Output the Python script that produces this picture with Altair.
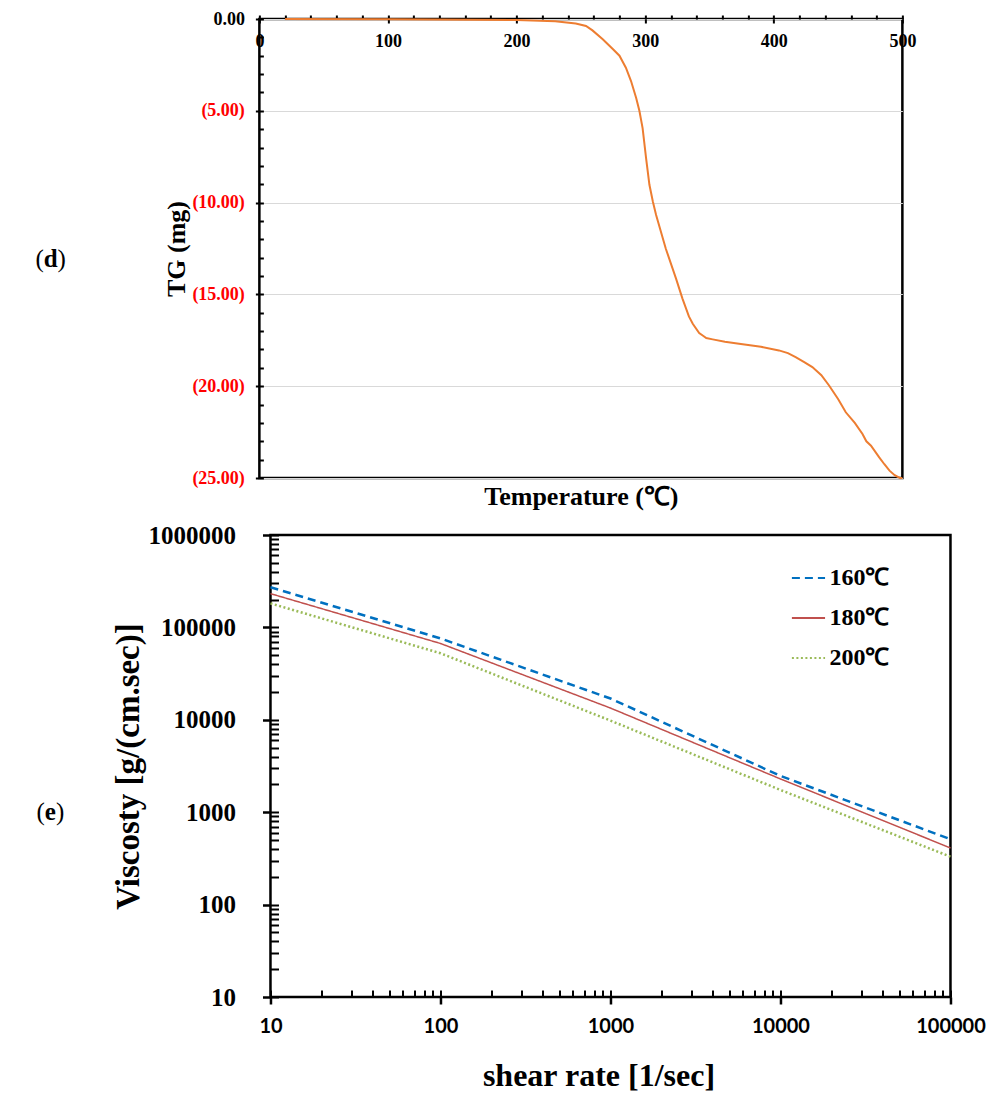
import altair as alt
import pandas as pd

SERIF = "Liberation Serif"

# ---------------- (d) TG curve ----------------
tg_temperature = [20, 100, 200, 230, 246, 254, 259, 267, 275, 280, 285, 289, 293, 295.5, 298, 300.7, 303.3,
                  306, 308.5, 316, 324, 329, 334, 337, 342, 345, 347.5, 352.5, 362, 373, 390,
                  404, 411, 417, 424, 430, 437, 443, 450, 456, 463, 469, 472, 475.6, 482, 486,
                  490, 494, 498, 500]
tg_mass = [0.0, -0.02, -0.06, -0.12, -0.25, -0.38, -0.62, -1.1, -1.65, -2.0, -2.65, -3.38, -4.3, -5.0, -5.94,
           -7.58, -9.03, -9.95, -10.67, -12.5, -14.14, -15.23, -16.2, -16.6, -17.1, -17.25, -17.38, -17.45,
           -17.58, -17.69, -17.85, -18.05, -18.2, -18.42, -18.7, -18.96, -19.4, -19.96, -20.7, -21.42, -22.0,
           -22.6, -23.0, -23.24, -23.88, -24.25, -24.6, -24.85, -25.0, -25.0]

tg_x_major = [0, 100, 200, 300, 400, 500]
tg_x_minor = list(range(0, 501, 20))
tg_y_major = [-25, -20, -15, -10, -5, 0]
tg_y_minor = list(range(-25, 1))

# ---------------- (e) viscosity ----------------
shear_rate = [10, 100, 1000, 10000, 100000]
visc_160 = [272000, 76000, 17000, 2470, 510]
visc_180 = [232000, 67000, 13400, 2290, 410]
visc_200 = [182000, 52500, 9800, 1740, 330]
series_names = ["160℃", "180℃", "200℃"]
series_colors = ["#0070C0", "#C0504D", "#9BBB59"]
series_dash = [[8, 5], [1, 0], [2, 2.5]]
series_width = [2.5, 1.5, 2.5]

v_x_major = [10, 100, 1000, 10000, 100000]
v_y_major = [10, 100, 1000, 10000, 100000, 1000000]
v_x_minor = [m * 10 ** e for e in range(1, 5) for m in range(1, 10)] + [100000]
v_y_minor = [m * 10 ** e for e in range(1, 6) for m in range(1, 10)] + [1000000]

tg_df = pd.DataFrame({"T": tg_temperature, "TG": tg_mass})
rows = []
for name, vals in zip(series_names, (visc_160, visc_180, visc_200)):
    for s, v in zip(shear_rate, vals):
        rows.append({"shear": s, "visc": v, "series": name})
visc_df = pd.DataFrame(rows)

W1, H1 = 643, 459
W2, H2 = 680, 462
LBL_FS = 25


def panel_label(letter, x0, y0, letter_w):
    base = alt.Chart(pd.DataFrame({"t": [0]}))
    common = dict(font=SERIF, fontSize=LBL_FS, baseline="middle", align="left", color="black")
    pw = 0.333 * LBL_FS
    lp = base.mark_text(text="(", fontWeight="normal", **common).encode(x=alt.value(x0), y=alt.value(y0))
    lt = base.mark_text(text=letter, fontWeight="bold", **common).encode(x=alt.value(x0 + pw), y=alt.value(y0))
    rp = base.mark_text(text=")", fontWeight="normal", **common).encode(
        x=alt.value(x0 + pw + letter_w), y=alt.value(y0))
    return [lp, lt, rp]


# ---------- top chart ----------
xs1 = alt.Scale(domain=[0, 500], nice=False, zero=False)
ys1 = alt.Scale(domain=[-25, 0], nice=False, zero=False)

x1_axis = alt.Axis(orient="top", values=tg_x_minor,
                   labelExpr="datum.value % 100 == 0 ? format(datum.value, 'd') : ''",
                   tickSize=4, tickWidth=2, tickColor="black", domain=False, grid=False,
                   labelFont=SERIF, labelFontSize=18, labelFontWeight="bold", labelColor="black",
                   labelBaseline="alphabetic", labelPadding=-31, labelOverlap=False, labelFlush=False,
                   minExtent=0, maxExtent=4, title=None)
y1_axis = alt.Axis(orient="left", values=tg_y_major,
                   labelExpr="datum.value < 0 ? '(' + format(-datum.value, '.2f') + ')' : format(datum.value, '.2f')",
                   labelColor={"condition": {"test": "datum.value < 0", "value": "#FF0000"}, "value": "black"},
                   tickSize=4, tickWidth=2, tickColor="black", domain=False,
                   grid=True, gridColor="#D9D9D9", gridWidth=1,
                   labelFont=SERIF, labelFontSize=18, labelFontWeight="bold", labelPadding=11,
                   title="TG (mg)", titleFont=SERIF, titleFontSize=26, titleFontWeight="bold",
                   titleColor="black", titlePadding=2)

tg_line = alt.Chart(tg_df).mark_line(color="#ED7D31", strokeWidth=2).encode(
    x=alt.X("T:Q", scale=xs1, axis=x1_axis),
    y=alt.Y("TG:Q", scale=ys1, axis=y1_axis),
)
tg_inner = alt.Chart(tg_df).mark_line(opacity=0).encode(
    x=alt.X("T:Q", scale=xs1, axis=alt.Axis(orient="bottom", offset=-H1, values=tg_x_major, tickSize=4,
                                             tickWidth=2, tickColor="black", labels=False, domain=False,
                                             grid=False, title=None, minExtent=0)),
    y=alt.Y("TG:Q", scale=ys1, axis=alt.Axis(orient="right", offset=-W1, values=tg_y_minor, tickSize=4,
                                              tickWidth=2, tickColor="black", labels=False, domain=False,
                                              grid=False, title=None, minExtent=0)),
)
tg_title = alt.Chart(tg_df).mark_line(opacity=0).encode(
    x=alt.X("T:Q", scale=xs1, axis=alt.Axis(orient="bottom", ticks=False, labels=False, domain=False,
                                             grid=False, title="Temperature (℃)", titleFont=SERIF,
                                             titleFontSize=26, titleFontWeight="bold", titleColor="black",
                                             titlePadding=5)),
    y=alt.Y("TG:Q", scale=ys1, axis=None),
)
# invisible anchor that widens the top panel so the centred layout offsets the lower panel
top_anchor = alt.Chart(pd.DataFrame({"t": [0]})).mark_text(
    text=".", align="right", baseline="middle", opacity=0, fontSize=10
).encode(x=alt.value(737), y=alt.value(240))

top = alt.layer(tg_line, tg_inner, tg_title, top_anchor,
                *panel_label("d", -224, 240, 0.556 * LBL_FS)).resolve_axis(
    x="independent", y="independent").properties(width=W1, height=H1)

# ---------- bottom chart ----------
xs2 = alt.Scale(type="log", domain=[10, 100000], nice=False)
ys2 = alt.Scale(type="log", domain=[10, 1000000], nice=False)

legend = alt.Legend(title=None, orient="none", legendX=520, legendY=25, labelFont=SERIF, labelFontSize=24,
                    labelFontWeight="bold", labelColor="black", symbolType="stroke", symbolSize=1100,
                    symbolStrokeWidth=2, rowPadding=10, labelOffset=3)
color_enc = alt.Color("series:N", scale=alt.Scale(domain=series_names, range=series_colors), legend=legend)
dash_enc = alt.StrokeDash("series:N", scale=alt.Scale(domain=series_names, range=series_dash), legend=legend)

x2_axis = alt.Axis(orient="bottom", values=v_x_major, format="d", tickSize=7, tickWidth=2.5, tickColor="black",
                   domain=False, grid=False, labelFont="Lato", labelFontSize=20, labelFontWeight="bold",
                   labelColor="black", labelPadding=12, labelFlush=False, labelOverlap=False,
                   title="shear rate [1/sec]", titleFont=SERIF, titleFontSize=32, titleFontWeight="bold",
                   titleColor="black", titlePadding=24, titleX=328)
y2_axis = alt.Axis(orient="left", values=v_y_major, format="d", tickSize=8, tickWidth=2.5, tickColor="black",
                   domain=False, grid=False, labelFont=SERIF, labelFontSize=25, labelFontWeight="bold",
                   labelColor="black", labelPadding=27, labelOverlap=False,
                   title="Viscosty [g/(cm.sec)]", titleFont=SERIF, titleFontSize=33, titleFontWeight="bold",
                   titleColor="black", titlePadding=2)

line_layers = []
for i, (name, sw) in enumerate(zip(series_names, series_width)):
    line_layers.append(
        alt.Chart(visc_df).transform_filter(alt.datum.series == name).mark_line(strokeWidth=sw).encode(
            x=alt.X("shear:Q", scale=xs2, axis=x2_axis if i == 0 else None),
            y=alt.Y("visc:Q", scale=ys2, axis=y2_axis if i == 0 else None),
            color=color_enc,
            strokeDash=dash_enc,
        )
    )
v_inner = alt.Chart(visc_df).mark_line(opacity=0).encode(
    x=alt.X("shear:Q", scale=xs2, axis=alt.Axis(orient="top", offset=-H2, values=v_x_minor, tickSize=7,
                                                 tickWidth=2, tickColor="black", labels=False, domain=False,
                                                 grid=False, title=None, minExtent=0)),
    y=alt.Y("visc:Q", scale=ys2, axis=alt.Axis(orient="right", offset=-W2, values=v_y_minor, tickSize=8,
                                                tickWidth=2, tickColor="black", labels=False, domain=False,
                                                grid=False, title=None, minExtent=0)),
)

bottom = alt.layer(*line_layers, v_inner, *panel_label("e", -234, 277, 0.444 * LBL_FS)).resolve_axis(
    x="independent", y="independent").properties(width=W2, height=H2)

chart = alt.concat(top, bottom, columns=1, align="each", center=True, spacing=10).resolve_scale(
    color="independent", strokeDash="independent"
).properties(
    padding={"left": 26, "top": 0, "right": -12, "bottom": 0}
).configure_view(stroke="black", strokeWidth=2.5)

chart.save("out.html", embed_options={"renderer": "svg", "actions": False})
